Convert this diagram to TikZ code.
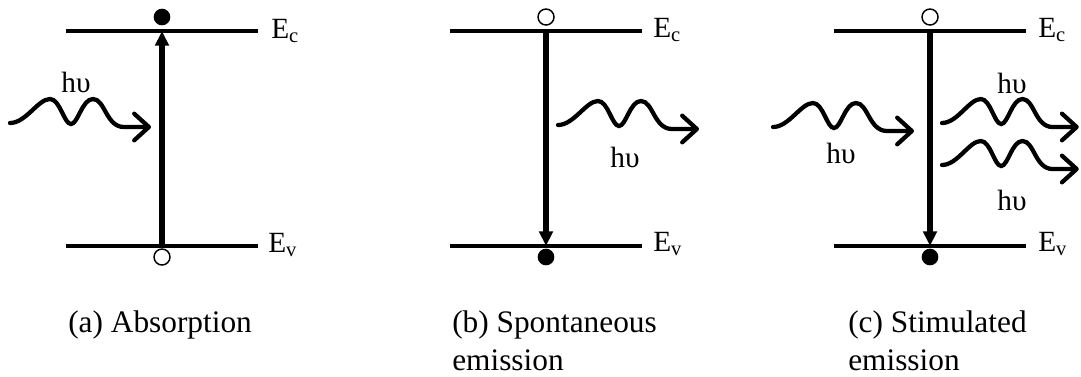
\documentclass[tikz,border=0pt]{standalone}
\usepackage{fontspec}
\setmainfont{Liberation Serif}
\usetikzlibrary{arrows.meta,positioning}

\tikzset{
  band/.style={line width=3.6pt},
  jump/.style={line width=3.8pt,-{Triangle[length=11pt,width=10pt]}},
  wave/.style={line width=3.2pt,line cap=round,-{Straight Barb[round,length=11pt,width=20pt]}},
  electron/.style={circle,fill=black,inner sep=0pt,minimum size=12.5pt},
  hole/.style={circle,draw=black,fill=white,line width=1.1pt,inner sep=0pt,minimum size=12pt},
  lbl/.style={font=\fontsize{22}{26}\selectfont,inner sep=0pt},
  caption/.style={font=\fontsize{23.5}{28.5}\selectfont,inner sep=0pt,align=left},
  photon/.pic={
    \draw[wave] (0,0) .. controls (16,0) and (28,-24) .. (40,-24)
      .. controls (50,-24) and (54,1) .. (61,1)
      .. controls (68,1) and (72,-24) .. (83,-24)
      .. controls (95,-24) and (96,4) .. (114,4) -- (141,4);
  }
}

\begin{document}
\begin{tikzpicture}[x=0.75pt,y=-0.75pt]
\useasboundingbox (0,0) rectangle (1081,376);
% absorption
\begin{scope}[shift={(162,0)}]
  \draw[band] (-96,31) -- (96,31);
  \draw[band] (-96,246) -- (96,246);
  \node[lbl,anchor=base west] (ecA) at (109,38) {E\textsubscript{c}};
  \node[lbl,anchor=base west] (evA) at (106,252) {E\textsubscript{v}};
  \coordinate (topA) at (0,31);
  \coordinate (botA) at (0,246);
  \draw[jump] (botA) -- (topA);
  \node[electron] (elA) at (0,17) {};
  \node[hole] (hoA) at (0,257) {};
  \pic at (-152,123) {photon};
  \node[lbl,anchor=base] (hvA) at (-86,92) {hυ};
  \node[caption,anchor=base west] (capA) at (-94,332) {(a) Absorption};
\end{scope}
% spontaneous emission
\begin{scope}[shift={(546,0)}]
  \draw[band] (-96,31) -- (96,31);
  \draw[band] (-96,246) -- (96,246);
  \node[lbl,anchor=base west] (ecB) at (107,37) {E\textsubscript{c}};
  \node[lbl,anchor=base west] (evB) at (107,251) {E\textsubscript{v}};
  \coordinate (topB) at (0,31);
  \coordinate (botB) at (0,246);
  \draw[jump] (topB) -- (botB);
  \node[hole] (hoB) at (0,17) {};
  \node[electron] (elB) at (0,257) {};
  \pic at (12,125) {photon};
  \node[lbl,anchor=base] (hvB) at (79,167) {hυ};
  \node[caption,anchor=base west] (capB) at (-94,370) {(b) Spontaneous\\emission};
\end{scope}
% stimulated emission
\begin{scope}[shift={(930,0)}]
  \draw[band] (-96,31) -- (96,31);
  \draw[band] (-96,246) -- (96,246);
  \node[lbl,anchor=base west] (ecC) at (108,37) {E\textsubscript{c}};
  \node[lbl,anchor=base west] (evC) at (108,251) {E\textsubscript{v}};
  \coordinate (topC) at (0,31);
  \coordinate (botC) at (0,246);
  \draw[jump] (topC) -- (botC);
  \node[hole] (hoC) at (0,17) {};
  \node[electron] (elC) at (0,257) {};
  \pic at (-157,127) {photon};
  \node[lbl,anchor=base] (hvC) at (-89,163) {hυ};
  \pic[xscale=0.97] at (12,123) {photon};
  \node[lbl,anchor=base] (hvD) at (82,93) {hυ};
  \pic[xscale=0.97] at (12,165) {photon};
  \node[lbl,anchor=base] (hvE) at (82,210) {hυ};
  \node[caption,anchor=base west] (capC) at (-82,370) {(c) Stimulated\\emission};
\end{scope}
\end{tikzpicture}
\end{document}
